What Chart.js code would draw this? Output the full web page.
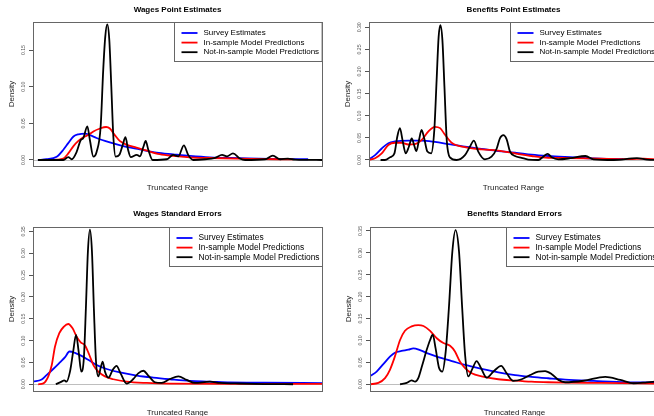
<!doctype html>
<html>
<head>
<script src="https://cdn.jsdelivr.net/npm/chart.js@4"></script>
<style>
  body { margin: 0; background: #fff; }
  #wrap { position: relative; width: 654px; height: 416px; overflow: hidden; }
  #wrap canvas { position: absolute; }
</style>
</head>
<body>
<div id="wrap">
  <canvas id="c1" width="330" height="205" style="left:0;top:0"></canvas>
  <canvas id="c2" width="330" height="205" style="left:336px;top:0"></canvas>
  <canvas id="c3" width="330" height="220" style="left:0;top:205px"></canvas>
  <canvas id="c4" width="330" height="220" style="left:337px;top:205px"></canvas>
</div>
<script>
const seriesLabels = ['Survey Estimates', 'In-sample Model Predictions', 'Not-in-sample Model Predictions'];
const seriesColors = ['#0000ff', '#ff0000', '#000000'];

// [x, density] pairs, x on an arbitrary 0-100 truncated range
const wagesPointSurvey = [[1.7,0],[4.7,0.001],[8.2,0.0045],[10.5,0.014],[12.2,0.023],[14.0,0.032],[15.7,0.035],[18.0,0.036],[19.7,0.034],[22.0,0.030],[26.6,0.024],[31.2,0.019],[37.0,0.0145],[42.8,0.010],[48.5,0.0077],[54.3,0.0055],[61.2,0.0036],[71.6,0.0025],[82,0.0015],[95.2,0.001]];
const wagesPointInSample = [[4.7,0],[8.2,0.0005],[10.5,0.002],[12.2,0.009],[14.0,0.019],[15.7,0.026],[17.4,0.031],[19.1,0.034],[20.9,0.039],[23.2,0.043],[25.3,0.045],[26.6,0.043],[28.3,0.034],[30.0,0.026],[32.3,0.021],[35.8,0.017],[39.2,0.013],[43.8,0.008],[48.5,0.0055],[54.3,0.0036],[61.2,0.0027],[75,0.0015],[90,0.0008]];
const wagesPointNotIn = [[1.7,0],[10.5,0],[12.2,0.004],[13.4,0.001],[15.1,0.011],[16.5,0.027],[17.4,0.030],[18.8,0.046],[19.7,0.027],[20.9,0.0045],[22.0,0.011],[23.4,0.045],[24.3,0.123],[25.0,0.168],[25.7,0.185],[26.4,0.164],[27.1,0.10],[27.8,0.032],[28.6,0.0045],[29.9,0.007],[31.0,0.020],[32.0,0.031],[32.9,0.014],[33.8,0.004],[35.9,0.007],[37.0,0.005],[38.2,0.018],[39.0,0.026],[39.9,0.014],[41.4,0],[46.3,0.001],[48.5,0.007],[50.3,0.005],[52.2,0.020],[53.7,0.007],[55.5,0],[59.5,0.001],[63.0,0.003],[65.4,0.007],[67.1,0.005],[69.2,0.009],[71.6,0.002],[73.4,0],[80.3,0.001],[83.0,0.006],[85.5,0.001],[88.2,0.002],[90.7,0.0005],[100,0]];

const benefitsPointSurvey = [[0,0.0015],[2.1,0.011],[4.4,0.026],[6.7,0.038],[9.0,0.042],[13.6,0.044],[18.2,0.044],[22.8,0.041],[27.5,0.036],[33.2,0.030],[39.0,0.025],[44.7,0.020],[50.5,0.0166],[56.3,0.012],[62.0,0.009],[67.8,0.0068],[80,0.003],[88,0.002]];
const benefitsPointInSample = [[0,0],[2.1,0.004],[4.4,0.015],[6.7,0.034],[9.0,0.039],[11.3,0.039],[13.6,0.035],[15.9,0.036],[18.2,0.045],[20.5,0.064],[22.8,0.075],[24.6,0.072],[26.3,0.057],[28.6,0.039],[33.2,0.029],[39.0,0.024],[44.7,0.021],[50.5,0.015],[56.3,0.009],[62.0,0.005],[67.8,0.0045],[80,0.003],[90,0.002],[95,0.003],[100,0.001]];
const benefitsPointNotIn = [[4,0],[5.5,0],[7.3,0.006],[8.8,0.015],[9.8,0.053],[10.7,0.072],[11.6,0.045],[12.7,0.015],[13.8,0.030],[14.8,0.049],[15.6,0.034],[16.4,0.020],[17.3,0.045],[18.2,0.068],[19.1,0.049],[20.2,0.019],[21.5,0.015],[22.6,0.068],[23.4,0.181],[24.1,0.279],[24.7,0.305],[25.4,0.271],[26.1,0.166],[26.9,0.045],[28.0,0.006],[30.3,0],[33.2,0.011],[34.9,0.030],[36.3,0.044],[37.8,0.019],[40.1,0.0015],[42.4,0.0075],[44.2,0.026],[45.3,0.049],[46.5,0.056],[47.6,0.047],[48.8,0.019],[50.5,0.009],[52.8,0.005],[55.1,0.001],[58.6,0],[60.3,0.0075],[61.8,0.014],[63.2,0.006],[65.5,0.0015],[69.7,0.004],[74.9,0.009],[77.7,0.0015],[84.7,0],[92.7,0.004],[96.2,0.001],[100,0]];

const wagesSeSurvey = [[0,0.006],[3.0,0.011],[4.7,0.021],[7.0,0.035],[9.3,0.050],[11.1,0.062],[12.6,0.075],[14.5,0.072],[16.8,0.065],[19.1,0.056],[22.0,0.044],[25.5,0.035],[30.1,0.027],[35.9,0.020],[41.6,0.0153],[47.4,0.0115],[54.3,0.0076],[61.2,0.006],[68.2,0.004],[80,0.0035],[100,0.0025]];
const wagesSeInSample = [[1.8,0],[3.6,0.002],[5.3,0.018],[6.5,0.044],[7.6,0.086],[9.1,0.117],[10.7,0.132],[12.2,0.138],[13.7,0.128],[15.1,0.109],[16.5,0.096],[18.0,0.089],[19.5,0.067],[20.9,0.044],[22.6,0.029],[24.9,0.018],[27.8,0.0115],[32.4,0.006],[39.3,0.003],[47.4,0.0015],[68.2,0.001],[100,0.001]];
const wagesSeNotIn = [[7.9,0],[9.9,0.006],[10.8,0.009],[11.6,0.006],[12.8,0.029],[13.9,0.075],[14.9,0.113],[15.8,0.075],[16.7,0.029],[17.6,0.060],[18.3,0.174],[19.0,0.304],[19.7,0.354],[20.4,0.304],[21.1,0.167],[21.8,0.052],[22.6,0.018],[23.4,0.037],[24.1,0.052],[24.9,0.029],[26.1,0.015],[27.6,0.033],[28.9,0.042],[30.3,0.025],[32.4,0.0015],[34.7,0.012],[36.4,0.025],[38.2,0.031],[39.9,0.020],[42.2,0.0046],[44.5,0.003],[47.4,0.012],[50.3,0.018],[53.2,0.010],[56.0,0.003],[61.2,0.006],[64.7,0.003],[70,0.002],[80,0.0005],[90,0]];

const benefitsSeSurvey = [[0,0.018],[2.3,0.029],[4.6,0.046],[6.9,0.063],[8.6,0.072],[10.9,0.076],[13.3,0.079],[15.0,0.082],[17.3,0.078],[20.2,0.070],[23.6,0.062],[28.3,0.053],[32.9,0.044],[38.6,0.035],[44.4,0.027],[50.2,0.021],[55.9,0.017],[61.7,0.0137],[67.5,0.0107],[77.4,0.0076],[88.9,0.0045],[100,0.004]];
const benefitsSeInSample = [[0,0],[2.9,0.003],[5.2,0.014],[6.9,0.033],[8.6,0.063],[10.4,0.101],[12.1,0.122],[14.4,0.132],[16.7,0.135],[18.5,0.133],[20.8,0.122],[23.1,0.105],[25.4,0.094],[27.7,0.088],[29.4,0.075],[31.1,0.052],[32.9,0.037],[35.2,0.025],[38.6,0.018],[44.4,0.0114],[50.2,0.0084],[55.9,0.006],[61.7,0.0046],[67.5,0.0038],[80,0.003],[100,0.0015]];
const benefitsSeNotIn = [[10.4,0],[12.7,0.003],[14.4,0.009],[15.6,0.006],[16.7,0.014],[18.1,0.044],[19.6,0.078],[20.8,0.101],[21.7,0.113],[22.7,0.082],[23.9,0.037],[25.0,0.029],[26.2,0.075],[27.3,0.174],[28.5,0.303],[29.6,0.352],[30.8,0.303],[31.9,0.174],[32.9,0.067],[34.0,0.018],[35.4,0.035],[36.9,0.053],[38.4,0.037],[40.4,0.015],[42.7,0.029],[45.4,0.042],[47.3,0.025],[49.6,0.0076],[52.5,0.0114],[55.4,0.021],[58.2,0.029],[60.6,0.030],[62.9,0.023],[65.2,0.010],[67.5,0.0046],[73.9,0.008],[81.4,0.017],[86.6,0.010],[91.2,0.0023],[95.8,0.0045],[100,0.007]];

const FONT = '"Liberation Sans", Arial, sans-serif';
Chart.defaults.font.family = FONT;
Chart.defaults.color = '#000';

// plot box, grey zero line and the boxed legend, R style
const rDecor = {
  id: 'rDecor',
  beforeDatasetsDraw(chart) {
    const {ctx, chartArea: a, scales: {y}} = chart;
    const y0 = Math.round(y.getPixelForValue(0)) + 0.5;
    ctx.save();
    ctx.strokeStyle = '#bebebe';
    ctx.lineWidth = 1;
    ctx.beginPath(); ctx.moveTo(a.left, y0); ctx.lineTo(a.right, y0); ctx.stroke();
    ctx.restore();
  },
  afterDatasetsDraw(chart, args, opts) {
    const {ctx, chartArea: a} = chart;
    ctx.save();
    ctx.strokeStyle = '#666';
    ctx.lineWidth = 1;
    ctx.strokeRect(Math.round(a.left) + 0.5, Math.round(a.top) + 0.5, Math.round(a.right - a.left), Math.round(a.bottom - a.top));
    ctx.font = opts.size + 'px ' + FONT;
    const sets = chart.data.datasets;
    const tw = Math.max(...sets.map(d => ctx.measureText(d.label).width));
    const w = 7 + 16 + 6 + tw + 3;
    const h = 39;
    const x0 = Math.round(a.right - w) + 0.5, y0 = Math.round(a.top) + 0.5;
    ctx.fillStyle = '#fff';
    ctx.fillRect(x0, y0, w, h);
    ctx.strokeRect(x0, y0, w, h);
    ctx.textBaseline = 'middle';
    sets.forEach((d, i) => {
      const ly = y0 + 10.5 + i * 9.6;
      ctx.strokeStyle = d.borderColor;
      ctx.lineWidth = 1.8;
      ctx.beginPath(); ctx.moveTo(x0 + 7, ly); ctx.lineTo(x0 + 23, ly); ctx.stroke();
      ctx.fillStyle = '#000';
      ctx.fillText(d.label, x0 + 29, ly);
    });
    ctx.restore();
  }
};

const panels = [
  { id: 'c1', title: 'Wages Point Estimates', series: [wagesPointSurvey, wagesPointInSample, wagesPointNotIn],
    yMin: -0.0082, yMax: 0.1883, titlePad: [5.2, 7.2], xHeight: 39, xPadBottom: 12.2, legendSize: 8 },
  { id: 'c2', title: 'Benefits Point Estimates', series: [benefitsPointSurvey, benefitsPointInSample, benefitsPointNotIn],
    yMin: -0.0136, yMax: 0.312, titlePad: [5.2, 7.2], xHeight: 39, xPadBottom: 12.2, legendSize: 8 },
  { id: 'c3', title: 'Wages Standard Errors', series: [wagesSeSurvey, wagesSeInSample, wagesSeNotIn],
    yMin: -0.0154, yMax: 0.360, titlePad: [4.2, 8.2], xHeight: 34, xPadBottom: 7.2, legendSize: 8.4 },
  { id: 'c4', title: 'Benefits Standard Errors', series: [benefitsSeSurvey, benefitsSeInSample, benefitsSeNotIn],
    yMin: -0.0154, yMax: 0.359, titlePad: [4.2, 8.2], xHeight: 34, xPadBottom: 7.2, legendSize: 8.4 }
];

panels.forEach(p => {
  new Chart(document.getElementById(p.id), {
    type: 'line',
    data: {
      datasets: p.series.map((pts, i) => ({
        label: seriesLabels[i],
        data: pts.map(([x, y]) => ({x, y})),
        borderColor: seriesColors[i],
        borderWidth: 1.8,
        pointRadius: 0,
        fill: false,
        cubicInterpolationMode: 'monotone',
        order: 2 - i
      }))
    },
    options: {
      responsive: false,
      animation: false,
      events: [],
      layout: { padding: { left: 0, right: 8, top: 0, bottom: 0 } },
      plugins: {
        legend: { display: false },
        tooltip: { enabled: false },
        title: {
          display: true,
          text: p.title,
          fullSize: false,
          color: '#000',
          font: { size: 8, weight: 'bold', lineHeight: 1.2 },
          padding: { top: p.titlePad[0], bottom: p.titlePad[1] }
        },
        rDecor: { size: p.legendSize }
      },
      scales: {
        x: {
          type: 'linear',
          min: 0,
          max: 100,
          ticks: { display: false },
          grid: { display: false },
          border: { display: false },
          title: { display: true, text: 'Truncated Range', color: '#222', font: { size: 8, lineHeight: 1.2 }, padding: { top: 0, bottom: p.xPadBottom } },
          afterFit: s => { s.height = p.xHeight; }
        },
        y: {
          min: p.yMin,
          max: p.yMax,
          ticks: {
            stepSize: 0.05,
            includeBounds: false,
            minRotation: 90,
            maxRotation: 90,
            crossAlign: 'center',
            padding: 0,
            color: '#555',
            font: { size: 5.2 },
            callback: v => v.toFixed(2)
          },
          grid: { drawOnChartArea: false, drawTicks: true, tickLength: 4, color: '#555' },
          border: { display: false },
          title: { display: true, text: 'Density', color: '#222', font: { size: 8, lineHeight: 1.2 }, padding: { top: 7.2, bottom: 0 } },
          afterFit: s => { s.width = 33; }
        }
      }
    },
    plugins: [rDecor]
  });
});
</script>
</body>
</html>
